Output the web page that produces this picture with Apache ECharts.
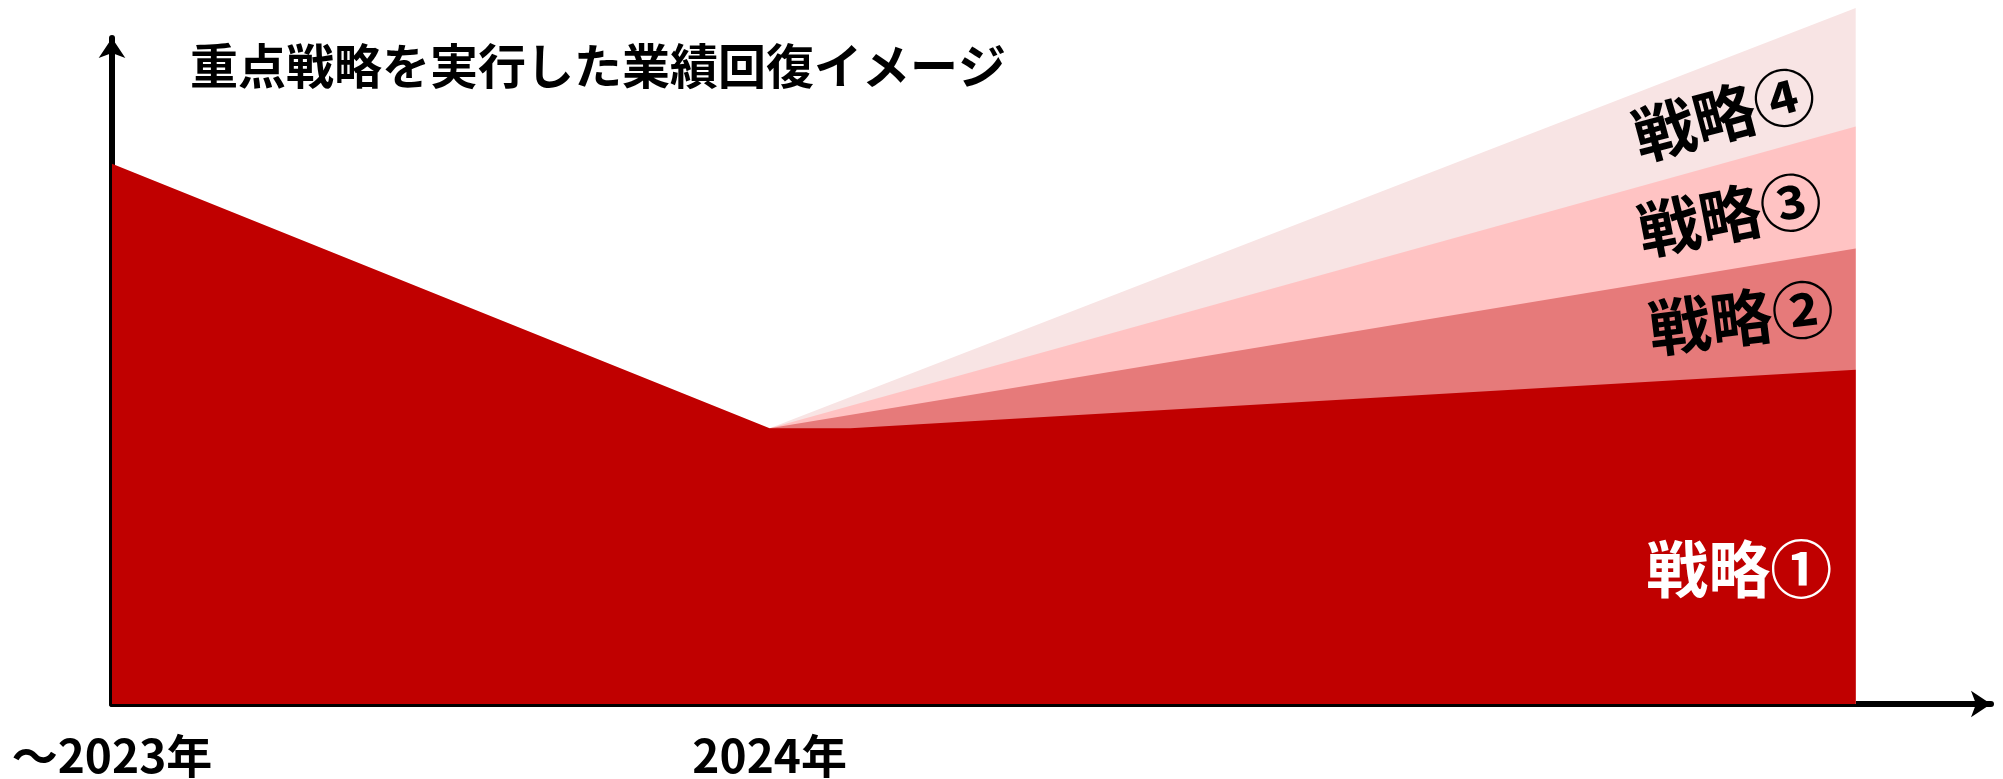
<!DOCTYPE html>
<html lang="ja">
<head>
    <meta charset="UTF-8">
    <title>重点戦略を実行した業績回復イメージ</title>
    <script src="https://cdn.jsdelivr.net/npm/echarts@6/dist/echarts.min.js"></script>
    <style>
        body { margin: 0; background: #fff; }
    </style>
</head>
<body>
<div id="main" style="width:2003px;height:779px;"></div>
<script type="text/javascript">
    // data (x: 0..100 along the time axis, y: 0..100 up the value axis)
    var xTickValues = [0, 35];
    var xTickLabels = ['～2023年', '2024年'];
    var baseX = [0, 35, 39.3, 92.8];
    var baseY = [81.1, 41.4, 41.4, 50.2];
    var growX = [35, 92.8];
    var strategyNames = ['戦略①', '戦略②', '戦略③', '戦略④'];
    var strategyGain = [0, 18.2, 18.3, 17.8];
    var colors = ['#C00000', '#E67A7A', '#FFC3C3', '#F8E4E4'];

    var font = '"Noto Sans CJK JP", "Noto Sans", sans-serif';

    // top of each band at the end point
    var tops = [];
    var acc = baseY[baseY.length - 1];
    for (var i = 0; i < strategyGain.length; i++) {
        acc += strategyGain[i];
        tops.push(acc);
    }

    var series = [];
    // upper bands first, so lower ones paint over them
    for (var k = strategyNames.length - 1; k >= 1; k--) {
        series.push({
            name: strategyNames[k],
            type: 'line',
            data: [[growX[0], baseY[1]], [growX[1], tops[k]]],
            showSymbol: false,
            clip: false,
            silent: true,
            lineStyle: { width: 0 },
            areaStyle: { color: colors[k], opacity: 1 }
        });
    }
    var baseData = [];
    for (var j = 0; j < baseX.length; j++) baseData.push([baseX[j], baseY[j]]);
    series.push({
        name: strategyNames[0],
        type: 'line',
        data: baseData,
        showSymbol: false,
        clip: false,
        silent: true,
        lineStyle: { width: 0 },
        areaStyle: { color: colors[0], opacity: 1 }
    });

    // band labels
    var labelSpots = [
        { value: [86.6, 20.2], rotate: 0, color: '#fff' },
        { value: [86.7, 58.0], rotate: 7, color: '#000' },
        { value: [86.1, 73.5], rotate: 11, color: '#000' },
        { value: [85.8, 88.6], rotate: 15, color: '#000' }
    ];
    series.push({
        type: 'scatter',
        symbolSize: 0,
        clip: false,
        silent: true,
        z: 10,
        itemStyle: { opacity: 1 },
        data: labelSpots.map(function (s, idx) {
            return {
                value: s.value,
                label: {
                    show: true,
                    position: 'inside',
                    formatter: strategyNames[idx],
                    rotate: s.rotate,
                    color: s.color,
                    opacity: 1,
                    fontSize: 62,
                    fontWeight: 'bold',
                    fontFamily: font
                }
            };
        })
    });

    var myChart = echarts.init(document.getElementById('main'));
    var option = {
        animation: false,
        backgroundColor: '#fff',
        title: {
            text: '重点戦略を実行した業績回復イメージ',
            left: 190,
            top: 42,
            padding: 0,
            textStyle: {
                fontSize: 48,
                fontWeight: 'bold',
                color: '#000',
                fontFamily: font
            }
        },
        grid: { left: 112, right: 12, top: 38, bottom: 74 },
        xAxis: {
            type: 'value',
            min: 0,
            max: 100,
            interval: 35,
            axisLine: {
                show: true,
                symbol: ['none', 'arrow'],
                symbolSize: [20, 20],
                lineStyle: { color: '#000', width: 6 }
            },
            axisTick: { show: false },
            splitLine: { show: false },
            axisLabel: {
                margin: 29,
                fontSize: 46,
                fontWeight: 'bold',
                color: '#000',
                fontFamily: font,
                formatter: function (v) {
                    var p = xTickValues.indexOf(v);
                    return p >= 0 ? xTickLabels[p] : '';
                }
            }
        },
        yAxis: {
            type: 'value',
            min: 0,
            max: 100,
            axisLine: {
                show: true,
                symbol: ['none', 'arrow'],
                symbolSize: [20, 20],
                lineStyle: { color: '#000', width: 6 }
            },
            axisTick: { show: false },
            splitLine: { show: false },
            axisLabel: { show: false }
        },
        series: series
    };
    myChart.setOption(option);
</script>
</body>
</html>
